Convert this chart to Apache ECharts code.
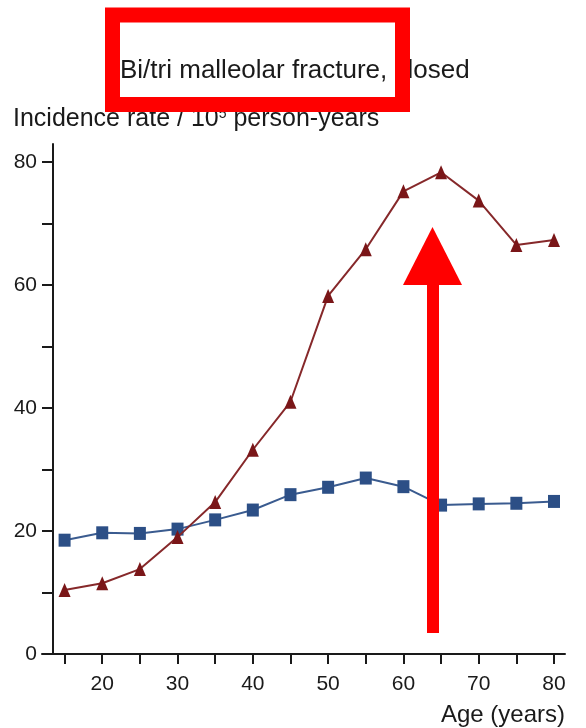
<!DOCTYPE html>
<html>
<head>
<meta charset="utf-8">
<script src="https://cdn.jsdelivr.net/npm/echarts@6/dist/echarts.min.js"></script>
<style>
  html, body { margin: 0; padding: 0; background: #fff; }
  #chart { width: 586px; height: 728px; }
</style>
</head>
<body>
<div id="chart"></div>
<script>
// Age groups (years)
const ages = [15, 20, 25, 30, 35, 40, 45, 50, 55, 60, 65, 70, 75, 80];
// Incidence rate per 10^5 person-years
const seriesSquares = [18.5, 19.7, 19.6, 20.3, 21.8, 23.4, 25.9, 27.1, 28.6, 27.2, 24.2, 24.4, 24.5, 24.8];
const seriesTriangles = [10.4, 11.5, 13.8, 19.0, 24.7, 33.2, 41.0, 58.2, 65.8, 75.2, 78.3, 73.7, 66.5, 67.3];
// Axis ticks and labels
const xTicks = [15, 20, 25, 30, 35, 40, 45, 50, 55, 60, 65, 70, 75, 80];
const xLabels = [20, 30, 40, 50, 60, 70, 80];
const yTicks = [0, 10, 20, 30, 40, 50, 60, 70, 80];
const yLabels = [0, 20, 40, 60, 80];

const FONT = '"Liberation Sans", Arial, Helvetica, sans-serif';
const INK = '#1a1a1a';

const chart = echarts.init(document.getElementById('chart'), null, { renderer: 'canvas' });

chart.setOption({
  animation: false,
  backgroundColor: '#ffffff',
  title: [
    {
      text: 'Bi/tri malleolar fracture, closed',
      left: 120, top: 58, padding: 0,
      textStyle: { fontFamily: FONT, fontSize: 26, fontWeight: 'normal', color: INK }
    },
    {
      text: 'Incidence rate / 10{sup|5} person-years',
      left: 13, top: 107, padding: 0,
      textStyle: {
        fontFamily: FONT, fontSize: 25, fontWeight: 'normal', color: INK,
        rich: {
          sup: { fontFamily: FONT, fontSize: 14, color: INK, verticalAlign: 'top', padding: [0, 0, 11, 0] }
        }
      }
    },
    {
      text: 'Age (years)',
      right: 21, top: 703, padding: 0,
      textStyle: { fontFamily: FONT, fontSize: 24, fontWeight: 'normal', color: INK }
    }
  ],
  grid: { left: 42, right: 21, top: 144, bottom: 74, containLabel: false },
  xAxis: {
    type: 'value',
    min: 12.0,
    max: 81.46,
    axisLine: { show: true, lineStyle: { color: INK, width: 2 } },
    axisTick: { show: true, length: 10, lineStyle: { color: INK, width: 2 }, customValues: xTicks },
    axisLabel: { show: true, margin: 20, fontFamily: FONT, fontSize: 21, color: INK, customValues: xLabels },
    splitLine: { show: false }
  },
  yAxis: {
    type: 'value',
    min: 0,
    max: 82.9,
    offset: -11,
    axisLine: { show: true, lineStyle: { color: INK, width: 2 } },
    axisTick: { show: true, length: 11, lineStyle: { color: INK, width: 2 }, customValues: yTicks },
    axisLabel: { show: true, margin: 16, fontFamily: FONT, fontSize: 21, color: INK, customValues: yLabels },
    splitLine: { show: false }
  },
  series: [
    {
      type: 'line',
      data: ages.map((a, i) => [a, seriesSquares[i]]),
      symbol: 'rect',
      symbolSize: [12, 13],
      lineStyle: { color: '#3a5b8f', width: 2 },
      itemStyle: { color: '#2c4f86' },
      z: 2
    },
    {
      type: 'line',
      data: ages.map((a, i) => [a, seriesTriangles[i]]),
      symbol: 'triangle',
      symbolSize: [12, 14],
      lineStyle: { color: '#86282a', width: 2 },
      itemStyle: { color: '#7a1618' },
      z: 3
    }
  ],
  // Red highlight box around the heading and red arrow pointing at the peak
  graphic: [
    {
      type: 'rect',
      z: 100,
      shape: { x: 112.5, y: 15, width: 290, height: 89.5 },
      style: { fill: null, stroke: '#ff0000', lineWidth: 15 }
    },
    {
      type: 'rect',
      z: 100,
      shape: { x: 427, y: 283, width: 12, height: 350 },
      style: { fill: '#ff0000' }
    },
    {
      type: 'polygon',
      z: 100,
      shape: { points: [[403, 285], [462, 285], [432.5, 227]] },
      style: { fill: '#ff0000' }
    }
  ]
});
</script>
</body>
</html>
